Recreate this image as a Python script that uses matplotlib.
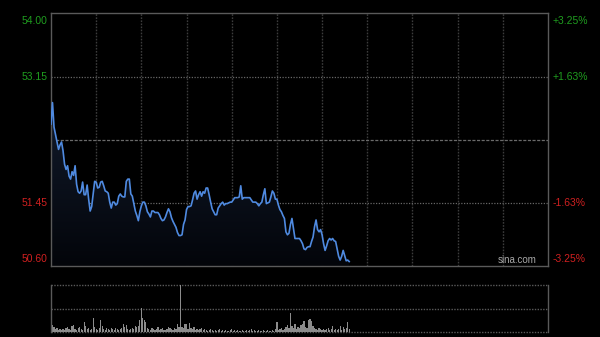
import matplotlib
matplotlib.use('Agg')
import matplotlib.pyplot as plt
import matplotlib.transforms as mtransforms
import numpy as np

# ---------------- data ----------------
prev_close = 52.30
y_ticks = [54.00, 53.15, 52.30, 51.45, 50.60]
left_labels = ['54.00', '53.15', '', '51.45', '50.60']
right_labels = ['+3.25%', '+1.63%', '', '-1.63%', '-3.25%']
session_minutes = 330
grid_minutes = [30, 60, 90, 120, 150, 180, 210, 240, 270, 300]

prices = [
    52.51, 52.80, 52.47, 52.37, 52.27, 52.17, 52.23, 52.27, 52.15, 51.97,
    51.90, 51.95, 51.81, 51.77, 51.87, 51.82, 51.95, 51.70, 51.60, 51.58,
    51.61, 51.73, 51.56, 51.56, 51.69, 51.50, 51.34, 51.40, 51.57, 51.74,
    51.73, 51.65, 51.66, 51.73, 51.74, 51.68, 51.61, 51.60, 51.58, 51.46,
    51.38, 51.46, 51.46, 51.42, 51.44, 51.54, 51.57, 51.54, 51.53, 51.53,
    51.74, 51.77, 51.77, 51.57, 51.54, 51.44, 51.34, 51.28, 51.21, 51.33,
    51.41, 51.46, 51.46, 51.41, 51.33, 51.30, 51.26, 51.34, 51.34, 51.32,
    51.32, 51.32, 51.29, 51.24, 51.21, 51.22, 51.26, 51.32, 51.37, 51.33,
    51.25, 51.20, 51.16, 51.12, 51.05, 51.01, 51.01, 51.02, 51.16, 51.22,
    51.36, 51.40, 51.40, 51.41, 51.49, 51.58, 51.61, 51.50, 51.56, 51.60,
    51.54, 51.60, 51.58, 51.65, 51.65, 51.56, 51.46, 51.37, 51.33, 51.29,
    51.29, 51.38, 51.41, 51.44, 51.46, 51.42, 51.44, 51.44, 51.45, 51.46,
    51.46, 51.49, 51.52, 51.52, 51.52, 51.53, 51.68, 51.50, 51.52, 51.52,
    51.52, 51.52, 51.52, 51.49, 51.46, 51.46, 51.46, 51.44, 51.41, 51.44,
    51.46, 51.56, 51.64, 51.44, 51.45, 51.46, 51.53, 51.61, 51.58, 51.50,
    51.50, 51.42, 51.36, 51.33, 51.28, 51.24, 51.06, 51.02, 51.04, 51.16,
    51.24, 51.10, 50.97, 50.97, 50.97, 50.97, 50.94, 50.90, 50.83, 50.82,
    50.85, 50.86, 50.86, 50.93, 50.99, 51.13, 51.22, 51.09, 51.06, 51.09,
    51.02, 50.90, 50.81, 50.87, 50.94, 50.97, 50.95, 50.97, 50.94, 50.93,
    50.83, 50.73, 50.68, 50.73, 50.81, 50.74, 50.67, 50.68, 50.66,
]

volumes = [
    11, 7, 5, 3, 4, 2, 3, 2, 3, 2,
    4, 5, 3, 2, 6, 7, 3, 2, 4, 5,
    3, 2, 10, 6, 3, 4, 2, 3, 14, 5,
    3, 2, 4, 12, 6, 3, 2, 4, 3, 2,
    4, 3, 2, 4, 3, 2, 3, 4, 8, 5,
    7, 3, 2, 3, 4, 3, 6, 5, 6, 12,
    24, 14, 12, 10, 4, 3, 2, 4, 3, 2,
    3, 5, 2, 3, 4, 2, 2, 3, 5, 4,
    3, 2, 4, 3, 8, 5, 60, 5, 4, 8,
    8, 3, 9, 4, 3, 5, 2, 3, 2, 3,
    4, 2, 3, 2, 1, 2, 3, 2, 1, 2,
    1, 2, 3, 1, 2, 1, 2, 1, 1, 2,
    3, 1, 2, 1, 2, 1, 1, 2, 1, 1,
    2, 1, 2, 3, 1, 2, 1, 1, 2, 1,
    1, 2, 1, 1, 2, 1, 1, 2, 1, 3,
    10, 2, 3, 4, 2, 3, 5, 7, 4, 19,
    6, 4, 8, 3, 5, 4, 7, 8, 11, 5,
    4, 12, 13, 11, 6, 4, 3, 2, 4, 3,
    2, 3, 2, 3, 4, 2, 3, 6, 2, 3,
    2, 3, 6, 2, 5, 3, 4, 10, 3,
]
volume_max = 47

# ---------------- style ----------------
plt.rcParams['font.family'] = ['Liberation Sans', 'DejaVu Sans']
GREEN = '#1f9d1f'
RED = '#d02020'
SPINE = '#5a5a5a'
GRID = '#4a4a4a'
LINE = '#4f8ae0'

fig = plt.figure(figsize=(6, 3.37), dpi=100, facecolor='black')

# ---------------- price panel ----------------
ax = fig.add_axes([0.085, 0.2107, 0.8283, 0.7493], facecolor='black')
ax.set_xlim(0, session_minutes)
ax.set_ylim(y_ticks[-1], y_ticks[0])
for s in ax.spines.values():
    s.set_color(SPINE)
    s.set_linewidth(1.0)
ax.set_xticks([])
ax.set_yticks([])

for m in grid_minutes:
    ax.axvline(m, color='#3c3c3c', lw=1.0, ls=(0, (1.2, 1.0)), zorder=1)
for v in y_ticks[1:-1]:
    if v == prev_close:
        ax.axhline(v, color='#6a6a6a', lw=0.9, ls=(0, (2.5, 1.2)), zorder=1)
    else:
        ax.axhline(v, color='#666666', lw=0.9, ls=(0, (1, 1.2)), zorder=1)

x = np.arange(len(prices))
p = np.array(prices)

# gradient fill under the line
poly = ax.fill_between(x, p, y_ticks[-1], color='none', lw=0)
grad = np.linspace(0, 1, 256).reshape(-1, 1)
from matplotlib.colors import LinearSegmentedColormap
cmap = LinearSegmentedColormap.from_list('g', ['#03050a', '#121b2c'])
img = ax.imshow(grad, cmap=cmap, aspect='auto', origin='lower',
                extent=[0, x[-1], y_ticks[-1], p.max()], zorder=2)
img.set_clip_path(poly.get_paths()[0], transform=ax.transData)
ax.set_xlim(0, session_minutes)
ax.set_ylim(y_ticks[-1], y_ticks[0])

ax.plot(x, p, color=LINE, lw=1.2, zorder=3)

trans = mtransforms.blended_transform_factory(ax.transAxes, ax.transData)
for i, (v, ll, rl) in enumerate(zip(y_ticks, left_labels, right_labels)):
    if not ll:
        continue
    col = GREEN if v > prev_close else RED
    if i == 0:
        va = 'top'
        off = -0.03
    elif i == len(y_ticks) - 1:
        va = 'bottom'
        off = 0.03
    else:
        va = 'center'
        off = 0
    ax.text(-0.007, v + off, ll, transform=trans, ha='right', va=va,
            color=col, fontsize=7.5, clip_on=False)
    ax.text(1.01, v + off, rl, transform=trans, ha='left', va=va,
            color=col, fontsize=7.5, clip_on=False)

ax.text(0.978, 0.004, 'sina.com', transform=ax.transAxes, ha='right',
        va='bottom', color='#a8a8a8', fontsize=7)

# ---------------- volume panel ----------------
axv = fig.add_axes([0.085, 0.0148, 0.8283, 0.1395], facecolor='black')
axv.set_xlim(0, session_minutes)
axv.set_ylim(0, volume_max)
axv.set_xticks([])
axv.set_yticks([])
for side in ['left', 'right']:
    axv.spines[side].set_color(SPINE)
    axv.spines[side].set_linewidth(1.0)
for side in ['top', 'bottom']:
    axv.spines[side].set_visible(False)
for v in [0, volume_max / 2, volume_max]:
    axv.axhline(v, color='#5a5a5a', lw=1.0, ls=(0, (1, 1)), zorder=1,
                clip_on=False)
axv.bar(np.arange(len(volumes)), volumes, width=0.8, color='#8c8c8c',
        lw=0, zorder=2)

fig.savefig('out.png', dpi=100, facecolor='black')
